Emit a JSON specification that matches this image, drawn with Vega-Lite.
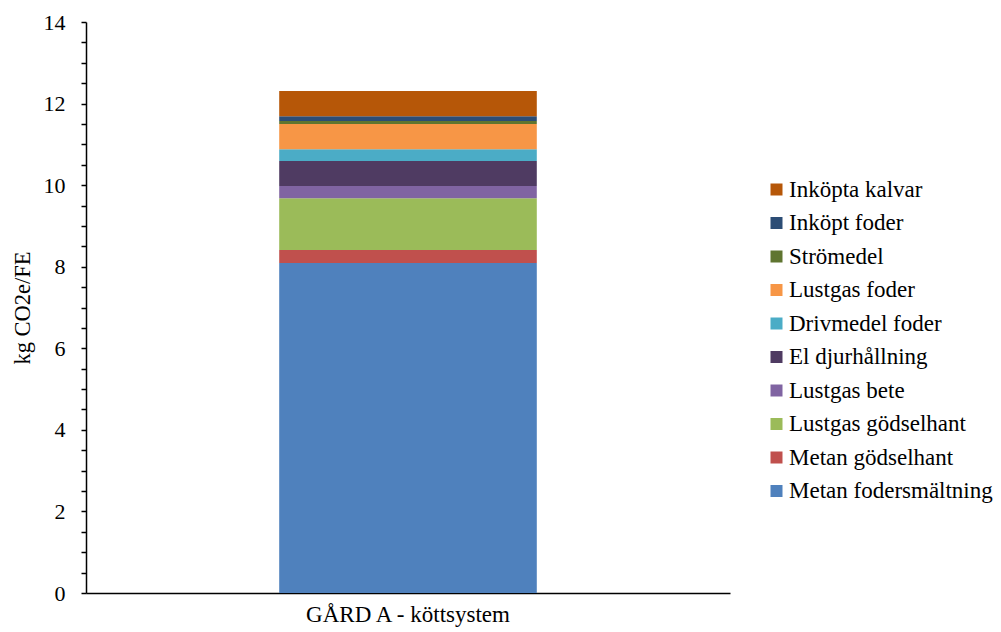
{
  "$schema": "https://vega.github.io/schema/vega-lite/v6.json",
  "width": 644,
  "height": 571,
  "autosize": {"type": "none"},
  "padding": {"left": 86, "top": 22, "right": 271, "bottom": 39},
  "background": "white",
  "config": {
    "view": {"stroke": null},
    "font": "Liberation Serif",
    "axis": {"labelFont": "Liberation Serif", "titleFont": "Liberation Serif"},
    "legend": {"labelFont": "Liberation Serif", "titleFont": "Liberation Serif"}
  },
  "data": {
    "values": [
      {"farm": "GÅRD A - köttsystem", "component": "Metan fodersmältning", "value": 8.09, "ord": 1},
      {"farm": "GÅRD A - köttsystem", "component": "Metan gödselhant", "value": 0.32, "ord": 2},
      {"farm": "GÅRD A - köttsystem", "component": "Lustgas gödselhant", "value": 1.27, "ord": 3},
      {"farm": "GÅRD A - köttsystem", "component": "Lustgas bete", "value": 0.30, "ord": 4},
      {"farm": "GÅRD A - köttsystem", "component": "El djurhållning", "value": 0.61, "ord": 5},
      {"farm": "GÅRD A - köttsystem", "component": "Drivmedel foder", "value": 0.29, "ord": 6},
      {"farm": "GÅRD A - köttsystem", "component": "Lustgas foder", "value": 0.62, "ord": 7},
      {"farm": "GÅRD A - köttsystem", "component": "Strömedel", "value": 0.07, "ord": 8},
      {"farm": "GÅRD A - köttsystem", "component": "Inköpt foder", "value": 0.12, "ord": 9},
      {"farm": "GÅRD A - köttsystem", "component": "Inköpta kalvar", "value": 0.62, "ord": 10}
    ]
  },
  "mark": {"type": "bar"},
  "encoding": {
    "x": {
      "field": "farm",
      "type": "nominal",
      "scale": {"paddingInner": 0, "paddingOuter": 0.75},
      "axis": {
        "title": null,
        "labelAngle": 0,
        "ticks": false,
        "tickSize": 0,
        "labelPadding": 10,
        "labelFontSize": 23,
        "labelFont": "Liberation Serif",
        "labelLimit": 500,
        "labelColor": "black",
        "domainColor": "black",
        "domainWidth": 1.5
      }
    },
    "y": {
      "field": "value",
      "type": "quantitative",
      "stack": "zero",
      "scale": {"domain": [0, 14], "nice": false},
      "axis": {
        "title": "kg CO2e/FE",
        "titleFont": "Liberation Serif",
        "titleFontSize": 22.5,
        "titleFontWeight": "normal",
        "titleColor": "black",
        "titleBaseline": "middle",
        "titleX": -64,
        "values": [0, 0.5, 1, 1.5, 2, 2.5, 3, 3.5, 4, 4.5, 5, 5.5, 6, 6.5, 7, 7.5, 8, 8.5, 9, 9.5, 10, 10.5, 11, 11.5, 12, 12.5, 13, 13.5, 14],
        "labelExpr": "datum.value % 2 === 0 ? format(datum.value, 'd') : ''",
        "labelFont": "Liberation Serif",
        "labelFontSize": 22,
        "labelColor": "black",
        "labelPadding": 16,
        "tickSize": 5,
        "tickColor": "black",
        "tickWidth": 1.5,
        "domainColor": "black",
        "domainWidth": 1.5,
        "grid": false
      }
    },
    "color": {
      "field": "component",
      "type": "nominal",
      "scale": {
        "domain": ["Inköpta kalvar", "Inköpt foder", "Strömedel", "Lustgas foder", "Drivmedel foder", "El djurhållning", "Lustgas bete", "Lustgas gödselhant", "Metan gödselhant", "Metan fodersmältning"],
        "range": ["#B65708", "#2C4D75", "#5F7530", "#F79646", "#4BACC6", "#4F3B62", "#8064A2", "#9BBB59", "#C0504D", "#4F81BD"]
      },
      "legend": {
        "title": null,
        "orient": "none",
        "legendX": 679,
        "legendY": 156,
        "symbolType": "square",
        "symbolSize": 144,
        "symbolStrokeWidth": 0,
        "labelFont": "Liberation Serif",
        "labelFontSize": 23,
        "labelColor": "black",
        "labelOffset": 1,
        "rowPadding": 9.5,
        "padding": 0,
        "labelLimit": 400
      }
    },
    "order": {"field": "ord", "type": "quantitative"}
  }
}
